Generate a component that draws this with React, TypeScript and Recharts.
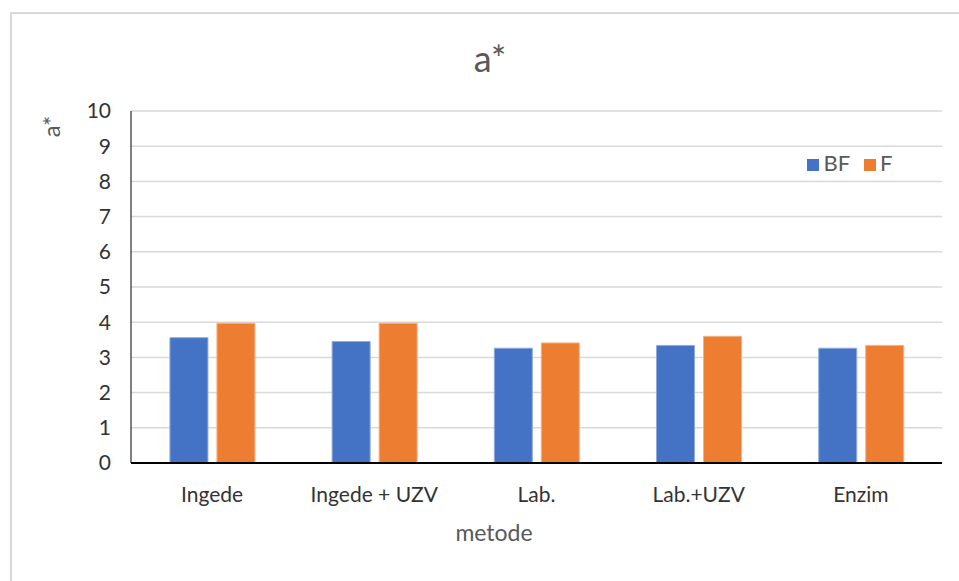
import { BarChart, Bar, XAxis, YAxis, CartesianGrid, Legend } from "recharts";

const categories = ["Ingede", "Ingede + UZV", "Lab.", "Lab.+UZV", "Enzim"];
const bfValues = [3.56, 3.45, 3.26, 3.34, 3.26];
const fValues = [3.97, 3.97, 3.41, 3.6, 3.34];
const yTicks = [0, 1, 2, 3, 4, 5, 6, 7, 8, 9, 10];

const data = categories.map((name, i) => ({ name, BF: bfValues[i], F: fValues[i] }));

const font = "Lato, 'Open Sans', sans-serif";

export default function App() {
  return (
    <div
      style={{
        position: "absolute",
        left: 0,
        top: 0,
        width: 959,
        height: 581,
        overflow: "hidden",
        background: "#fff",
        fontFamily: font,
      }}
    >
      <div
        style={{
          position: "absolute",
          left: 10,
          top: 12,
          width: 1000,
          height: 1000,
          borderTop: "2px solid #d9d9d9",
          borderLeft: "2px solid #d9d9d9",
        }}
      />
      <BarChart
        width={959}
        height={581}
        data={data}
        margin={{ top: 111, right: 17, bottom: 78, left: 71 }}
        barCategoryGap="24%"
        barGap={9}
        style={{ position: "absolute", left: 0, top: 0 }}
      >
        <CartesianGrid vertical={false} stroke="#d9d9d9" strokeWidth={1.5} />
        <XAxis
          dataKey="name"
          height={40}
          tickLine={false}
          axisLine={{ stroke: "#000", strokeWidth: 2 }}
          tickMargin={18}
          tick={{ fontSize: 21, fill: "#333", fontFamily: font }}
        />
        <YAxis
          width={60}
          domain={[0, 10]}
          ticks={yTicks}
          interval={0}
          tickLine={false}
          axisLine={{ stroke: "#000", strokeWidth: 1 }}
          tickMargin={14}
          tick={{ fontSize: 21, fill: "#333", fontFamily: font }}
        />
        <Legend
          iconType="square"
          iconSize={12}
          layout="horizontal"
          verticalAlign="middle"
          wrapperStyle={{ left: 792, top: 149, width: 130, fontFamily: font, fontSize: 22 }}
          formatter={(value) => (
            <span style={{ color: "#595959", marginRight: 4 }}>{value}</span>
          )}
        />
        <Bar dataKey="BF" fill="#4472C4" stroke="#8faadc" strokeWidth={1} isAnimationActive={false} />
        <Bar dataKey="F" fill="#ED7D31" stroke="#f4b183" strokeWidth={1} isAnimationActive={false} />
      </BarChart>
      <div
        style={{
          position: "absolute",
          left: 390,
          width: 200,
          top: 36,
          textAlign: "center",
          fontSize: 36,
          color: "#595959",
        }}
      >
        a*
      </div>
      <div
        style={{
          position: "absolute",
          left: 20,
          top: 112,
          width: 60,
          textAlign: "center",
          fontSize: 24,
          color: "#595959",
          transform: "rotate(-90deg)",
        }}
      >
        a*
      </div>
      <div
        style={{
          position: "absolute",
          left: 394,
          width: 200,
          top: 518,
          textAlign: "center",
          fontSize: 23,
          color: "#595959",
        }}
      >
        metode
      </div>
    </div>
  );
}
